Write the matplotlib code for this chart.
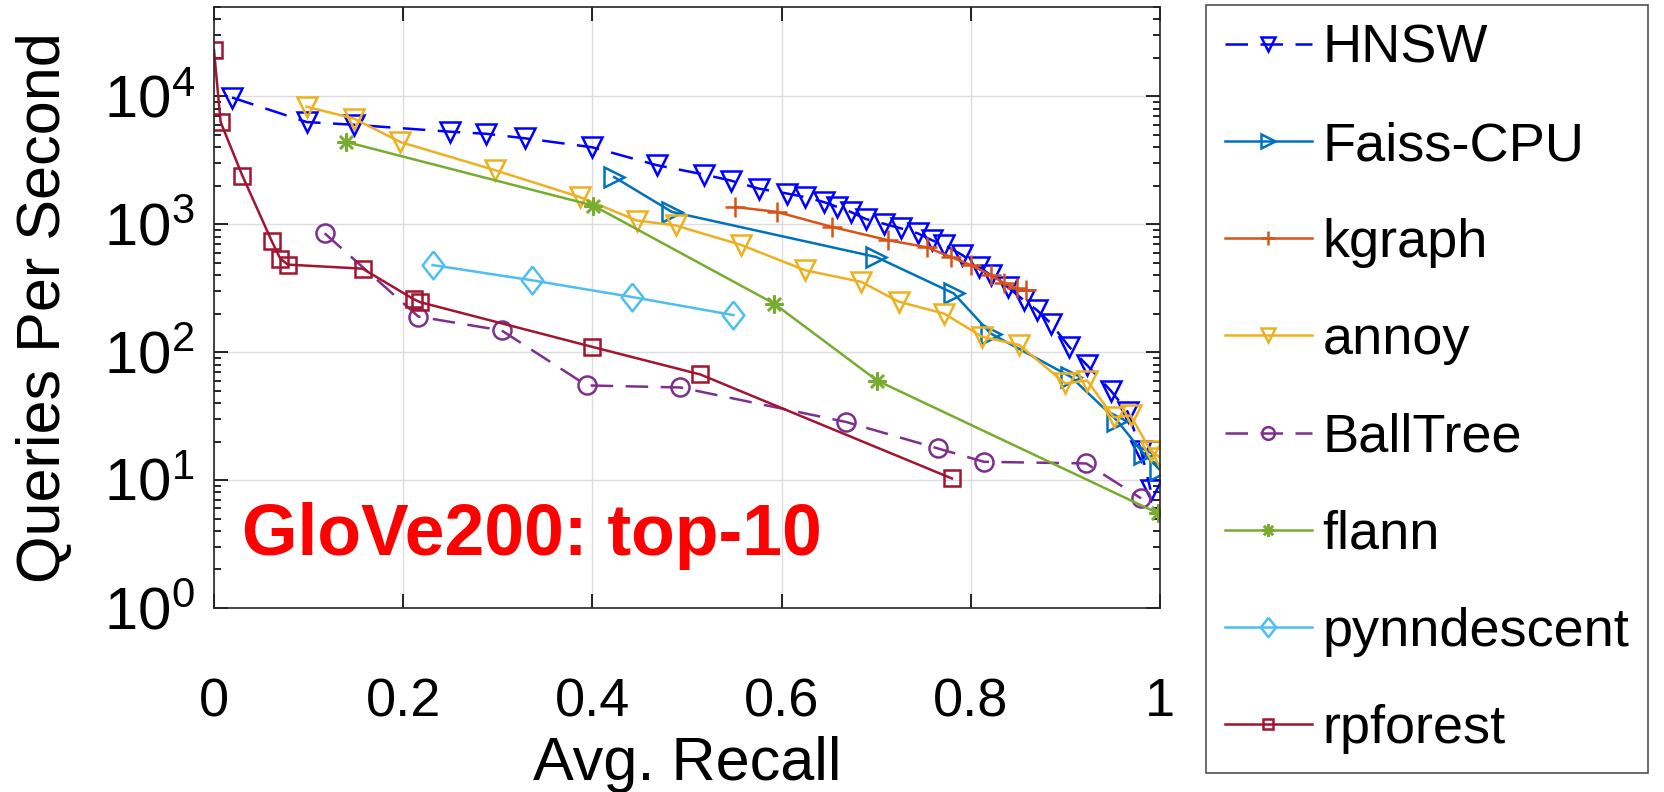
"""GloVe200 top-10: queries per second vs. average recall."""

import matplotlib

matplotlib.use("Agg")
import matplotlib.pyplot as plt
from matplotlib.ticker import LogLocator, NullFormatter

plt.rcParams["font.family"] = ["Liberation Sans", "DejaVu Sans"]
plt.rcParams["mathtext.fontset"] = "custom"
plt.rcParams["mathtext.rm"] = "Liberation Sans"
plt.rcParams["mathtext.default"] = "regular"

hnsw_x = [0.019, 0.098, 0.148, 0.249, 0.288, 0.329, 0.40, 0.468, 0.518, 0.546,
          0.576, 0.606, 0.625, 0.645, 0.659, 0.673, 0.689, 0.708, 0.726, 0.744,
          0.759, 0.772, 0.791, 0.809, 0.821, 0.839, 0.856, 0.870, 0.885, 0.904,
          0.923, 0.948, 0.966, 0.980, 0.990]
hnsw_y = [9800, 6300, 6000, 5300, 5100, 4700, 4000, 2900, 2450, 2200,
          1900, 1740, 1630, 1490, 1365, 1250, 1100, 1010, 930, 850,
          750, 690, 575, 465, 400, 323, 255, 213, 167, 110,
          79, 50, 34, 17, 8.4]

faiss_x = [0.423, 0.484, 0.700, 0.782, 0.821, 0.906, 0.955, 0.983, 1.0]
faiss_y = [2340, 1250, 555, 288, 140, 64, 29, 16, 12]

kgraph_x = [0.551, 0.595, 0.653, 0.713, 0.754, 0.779, 0.800, 0.821, 0.835, 0.849, 0.858]
kgraph_y = [1365, 1250, 955, 750, 660, 555, 480, 400, 347, 315, 305]

annoy_x = [0.098, 0.148, 0.197, 0.297, 0.387, 0.447, 0.488, 0.557, 0.625, 0.684,
           0.724, 0.772, 0.812, 0.851, 0.900, 0.923, 0.951, 0.969, 0.990, 1.0]
annoy_y = [8300, 6700, 4400, 2650, 1630, 1070, 980, 690, 437, 355,
           248, 200, 132, 114, 57, 60, 31, 32, 17, 15]

balltree_x = [0.117, 0.216, 0.304, 0.394, 0.493, 0.668, 0.765, 0.814, 0.922, 0.980]
balltree_y = [850, 190, 148, 55, 53, 28.5, 17.7, 13.9, 13.5, 7.2]

flann_x = [0.140, 0.401, 0.592, 0.701, 0.998]
flann_y = [4400, 1400, 240, 60, 5.5]

pynn_x = [0.231, 0.336, 0.442, 0.549]
pynn_y = [480, 365, 270, 195]

rpforest_x = [0.0, 0.007, 0.030, 0.061, 0.070, 0.078, 0.157, 0.211, 0.218, 0.400, 0.514, 0.780]
rpforest_y = [23000, 6300, 2400, 740, 540, 484, 450, 260, 246, 110, 67, 10.3]

# MATLAB-like markers: wide diamond and 8-spoke asterisk
diamond = [(0, 1), (0.78, 0), (0, -1), (-0.78, 0), (0, 1)]
asterisk = (8, 2, 0)

dashed = (0, (9, 5))
series = [
    ("HNSW", hnsw_x, hnsw_y, "#0000FF", "v", 15, dashed),
    ("Faiss-CPU", faiss_x, faiss_y, "#0072BD", ">", 15, "-"),
    ("kgraph", kgraph_x, kgraph_y, "#D95319", "+", 15, "-"),
    ("annoy", annoy_x, annoy_y, "#EDB120", "v", 15, "-"),
    ("BallTree", balltree_x, balltree_y, "#7E2F8E", "o", 13, dashed),
    ("flann", flann_x, flann_y, "#77AC30", asterisk, 13, "-"),
    ("pynndescent", pynn_x, pynn_y, "#4DBEEE", diamond, 20, "-"),
    ("rpforest", rpforest_x, rpforest_y, "#A2142F", "s", 11, "-"),
]

fig = plt.figure(figsize=(16.65, 7.92), dpi=100)
ax = fig.add_axes([214 / 1665, 1 - 608 / 792, 946 / 1665, 601 / 792])

handles = []
for label, xs, ys, color, marker, size, style in series:
    (line,) = ax.plot(
        xs, ys, linestyle=style, color=color, marker=marker, markersize=size,
        markerfacecolor="none", markeredgecolor=color, markeredgewidth=1.8,
        linewidth=1.8, label=label,
    )
    handles.append(line)

ax.set_yscale("log")
ax.set_xlim(0, 1)
ax.set_ylim(1, 5e4)
ax.set_xticks([0, 0.2, 0.4, 0.6, 0.8, 1])
ax.set_xticklabels(["0", "0.2", "0.4", "0.6", "0.8", "1"])
ax.yaxis.set_major_locator(LogLocator(base=10, numticks=10))
ax.yaxis.set_minor_locator(LogLocator(base=10, subs=range(2, 10), numticks=20))
ax.yaxis.set_minor_formatter(NullFormatter())
ax.grid(True, which="major", color="#dddddd", linewidth=1.0)
ax.tick_params(which="both", direction="in", top=True, right=True, width=1.2)
ax.tick_params(which="major", length=10)
ax.tick_params(which="minor", length=5)
ax.tick_params(axis="x", labelsize=39, pad=50)
ax.tick_params(axis="y", labelsize=43, pad=14)
for spine in ax.spines.values():
    spine.set_linewidth(1.2)
    spine.set_color("#262626")

ax.set_xlabel("Avg. Recall", fontsize=44, labelpad=6)
ax.set_ylabel("Queries Per Second", fontsize=44, labelpad=22)

ax.text(0.03, 2.6, "GloVe200: top-10", color="#FF0000", fontsize=51.5,
        fontweight="bold", va="baseline", ha="left")

leg = fig.legend(
    handles=handles, loc="upper left", bbox_to_anchor=(1206 / 1665, 1 - 5 / 792),
    fontsize=39, frameon=True, fancybox=False, edgecolor="#262626",
    handlelength=1.6, handletextpad=0.2, labelspacing=0.87, borderpad=0.35,
    borderaxespad=0.0, markerscale=0.7,
)
leg.get_frame().set_linewidth(1.2)

fig.savefig("out.png", dpi=100)
